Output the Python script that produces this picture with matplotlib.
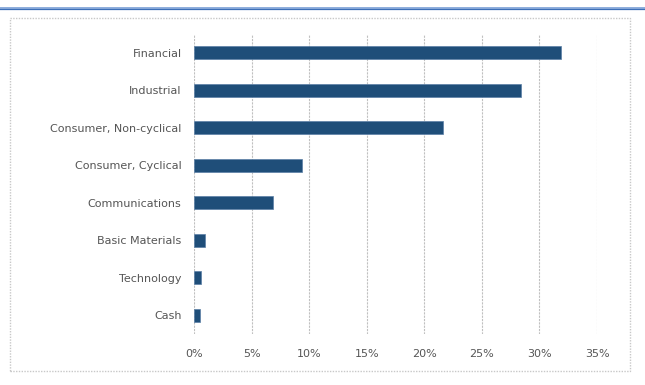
import matplotlib.pyplot as plt
from matplotlib.lines import Line2D
from matplotlib.patches import Rectangle
from matplotlib.ticker import FuncFormatter, MultipleLocator

sectors = ["Financial", "Industrial", "Consumer, Non-cyclical", "Consumer, Cyclical",
           "Communications", "Basic Materials", "Technology", "Cash"]
weights = [31.9, 28.4, 21.6, 9.4, 6.9, 0.95, 0.6, 0.5]

W, H = 645, 385
fig = plt.figure(figsize=(W / 100, H / 100), dpi=100)
fig.patch.set_facecolor("white")

# blue rule along the top
fig.add_artist(Line2D([0, 1], [1 - 7.5 / H, 1 - 7.5 / H], color="#7aa0d6", lw=1.2))
fig.add_artist(Line2D([0, 1], [1 - 9 / H, 1 - 9 / H], color="#3d6fb8", lw=0.9))

# dotted outer chart frame
fig.add_artist(Rectangle((9.5 / W, 1 - 371 / H), (630 - 9.5) / W, (371 - 18) / H,
                         fill=False, edgecolor="#c8c8c8", lw=1.0, linestyle=(0, (1, 1))))

left, right = 194 / W, 597 / W
top, bottom = 34 / H, 334 / H
ax = fig.add_axes([left, 1 - bottom, right - left, bottom - top])

ypos = list(range(len(sectors)))
ax.barh(ypos, [w / 100 for w in weights], height=0.35, color="#1f4e79",
        edgecolor="#5b7fa6", linewidth=0.5, zorder=3)

ax.set_xlim(0, 0.35)
ax.set_ylim(len(sectors) - 0.5, -0.5)
ax.set_yticks(ypos)
ax.set_yticklabels(sectors)
ax.xaxis.set_major_locator(MultipleLocator(0.05))
ax.xaxis.set_major_formatter(FuncFormatter(lambda v, p: f"{v * 100:.0f}%"))

for s in ax.spines.values():
    s.set_visible(False)
ax.tick_params(axis="both", length=0, labelsize=8, labelcolor="#555555")
ax.tick_params(axis="y", pad=9)
ax.tick_params(axis="x", pad=11)
ax.grid(axis="x", color="#c0c0c0", linestyle=(0, (2, 1)), lw=0.8, zorder=0)
ax.set_axisbelow(True)

fig.savefig("out.png", dpi=100)
